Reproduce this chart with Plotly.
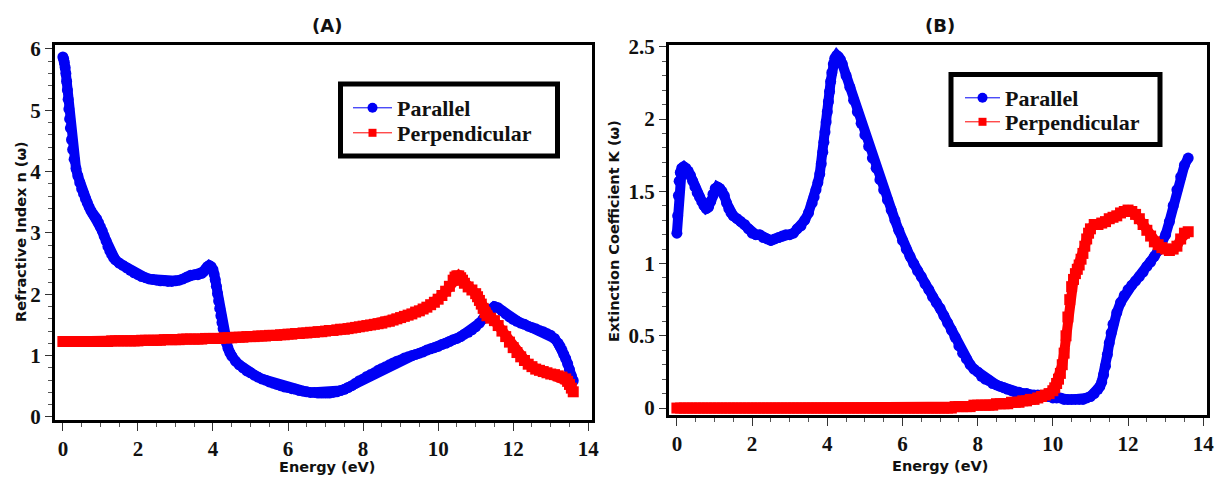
import plotly.graph_objects as go

# ---------------- Data ----------------
# Panel A: Refractive index n(w)
E_A_par = [0.00,0.02,0.04,0.06,0.08,0.10,0.12,0.14,0.16,0.18,0.20,0.23,0.26,0.30,0.35,0.40,0.45,0.50,0.55,0.60,
           0.65,0.70,0.75,0.80,0.85,0.90,0.95,1.00,1.05,1.10,1.15,1.20,1.25,1.30,1.35,1.40,1.50,1.60,1.70,1.80,
           1.90,2.00,2.10,2.20,2.30,2.40,2.50,2.60,2.70,2.80,2.90,3.00,3.10,3.20,3.30,3.40,3.50,3.60,3.70,3.75,
           3.80,3.85,3.90,3.95,4.00,4.03,4.06,4.09,4.12,4.15,4.18,4.21,4.24,4.27,4.30,4.33,4.36,4.40,4.45,4.50,
           4.60,4.70,4.80,4.90,5.00,5.10,5.20,5.30,5.40,5.50,5.60,5.70,5.80,5.90,6.00,6.10,6.20,6.30,6.40,6.50,
           6.60,6.70,6.80,6.90,7.00,7.10,7.20,7.30,7.40,7.50,7.60,7.70,7.80,7.90,8.00,8.10,8.20,8.30,8.40,8.50,
           8.60,8.70,8.80,8.90,9.00,9.10,9.20,9.30,9.40,9.50,9.60,9.70,9.80,9.90,10.00,10.10,10.20,10.30,10.40,10.50,
           10.60,10.70,10.80,10.90,11.00,11.10,11.20,11.30,11.40,11.50,11.60,11.70,11.80,11.90,12.00,12.10,12.20,12.30,12.40,12.50,
           12.60,12.70,12.80,12.90,13.00,13.10,13.20,13.25,13.30,13.35,13.40,13.45,13.50,13.55,13.60]
n_par = [5.87,5.84,5.78,5.70,5.60,5.47,5.33,5.18,5.02,4.86,4.71,4.52,4.36,4.20,4.05,3.93,3.82,3.72,3.64,3.56,
         3.49,3.42,3.36,3.31,3.27,3.23,3.17,3.10,3.03,2.95,2.87,2.78,2.71,2.65,2.60,2.56,2.51,2.47,2.43,2.39,
         2.35,2.32,2.29,2.27,2.25,2.24,2.23,2.22,2.22,2.21,2.21,2.22,2.23,2.25,2.28,2.31,2.32,2.32,2.34,2.37,
         2.41,2.45,2.47,2.45,2.40,2.33,2.24,2.13,2.01,1.89,1.77,1.65,1.54,1.44,1.35,1.27,1.20,1.12,1.05,0.99,
         0.91,0.85,0.80,0.75,0.72,0.68,0.65,0.62,0.60,0.57,0.55,0.53,0.51,0.49,0.48,0.46,0.45,0.43,0.42,0.41,
         0.40,0.40,0.39,0.39,0.39,0.39,0.40,0.41,0.43,0.45,0.48,0.51,0.55,0.59,0.62,0.66,0.69,0.72,0.76,0.79,
         0.82,0.85,0.88,0.91,0.93,0.96,0.98,1.00,1.02,1.04,1.06,1.09,1.11,1.13,1.15,1.18,1.20,1.23,1.26,1.28,
         1.31,1.35,1.38,1.42,1.47,1.53,1.60,1.68,1.76,1.80,1.78,1.73,1.68,1.63,1.59,1.56,1.53,1.51,1.48,1.46,
         1.44,1.41,1.39,1.36,1.33,1.28,1.20,1.15,1.09,1.02,0.95,0.87,0.77,0.67,0.59]

E_A_per = [0.0,0.1,0.2,0.3,0.4,0.5,0.6,0.7,0.8,0.9,1.0,1.1,1.2,1.3,1.4,1.5,1.6,1.7,1.8,1.9,
           2.0,2.1,2.2,2.3,2.4,2.5,2.6,2.7,2.8,2.9,3.0,3.1,3.2,3.3,3.4,3.5,3.6,3.7,3.8,3.9,
           4.0,4.1,4.2,4.3,4.4,4.5,4.6,4.7,4.8,4.9,5.0,5.1,5.2,5.3,5.4,5.5,5.6,5.7,5.8,5.9,
           6.0,6.1,6.2,6.3,6.4,6.5,6.6,6.7,6.8,6.9,7.0,7.1,7.2,7.3,7.4,7.5,7.6,7.7,7.8,7.9,
           8.0,8.1,8.2,8.3,8.4,8.5,8.6,8.7,8.8,8.9,9.0,9.1,9.2,9.3,9.4,9.5,9.6,9.7,9.8,9.9,
           10.0,10.1,10.2,10.3,10.4,10.45,10.5,10.55,10.6,10.65,10.7,10.8,10.9,11.0,11.05,11.1,11.15,11.2,11.25,11.3,
           11.4,11.5,11.6,11.7,11.8,11.9,12.0,12.1,12.2,12.3,12.4,12.5,12.6,12.7,12.8,12.9,13.0,13.1,13.2,13.3,
           13.4,13.45,13.5,13.55,13.6]
n_per = [1.23,1.23,1.23,1.23,1.23,1.23,1.23,1.23,1.23,1.23,1.23,1.23,1.23,1.24,1.24,1.24,1.24,1.24,1.24,1.24,
         1.24,1.25,1.25,1.25,1.25,1.25,1.25,1.26,1.26,1.26,1.26,1.26,1.27,1.27,1.27,1.27,1.27,1.27,1.28,1.28,
         1.28,1.28,1.28,1.29,1.29,1.29,1.30,1.30,1.30,1.31,1.31,1.31,1.32,1.32,1.32,1.33,1.33,1.33,1.34,1.34,
         1.35,1.35,1.36,1.36,1.37,1.37,1.38,1.38,1.39,1.39,1.40,1.41,1.41,1.42,1.43,1.43,1.44,1.45,1.46,1.47,
         1.48,1.49,1.50,1.51,1.52,1.53,1.55,1.56,1.58,1.60,1.62,1.64,1.66,1.68,1.71,1.73,1.76,1.79,1.83,1.87,
         1.92,1.98,2.05,2.13,2.23,2.28,2.30,2.30,2.27,2.23,2.18,2.12,2.07,2.01,1.96,1.90,1.84,1.77,1.70,1.65,
         1.61,1.57,1.49,1.40,1.31,1.22,1.13,1.05,0.98,0.92,0.86,0.82,0.78,0.76,0.74,0.72,0.70,0.69,0.67,0.65,
         0.62,0.58,0.53,0.47,0.41]

# Panel B: Extinction coefficient K(w)
E_B_par = [0.00,0.02,0.04,0.06,0.09,0.13,0.18,0.24,0.30,0.36,0.42,0.48,0.54,0.60,0.66,0.72,0.78,0.84,0.90,0.96,
           1.02,1.08,1.14,1.20,1.26,1.32,1.38,1.44,1.50,1.60,1.70,1.80,1.90,2.00,2.10,2.20,2.30,2.40,2.50,2.60,
           2.70,2.80,2.90,3.00,3.10,3.20,3.30,3.40,3.50,3.60,3.65,3.70,3.75,3.80,3.84,3.88,3.91,3.94,3.97,4.00,
           4.03,4.06,4.09,4.12,4.16,4.20,4.25,4.30,4.35,4.40,4.50,4.60,4.70,4.80,4.90,5.00,5.10,5.20,5.30,5.40,
           5.50,5.60,5.70,5.80,5.90,6.00,6.10,6.20,6.30,6.40,6.50,6.60,6.70,6.80,6.90,7.00,7.10,7.20,7.30,7.40,
           7.50,7.60,7.70,7.80,7.90,8.00,8.10,8.20,8.30,8.40,8.50,8.60,8.70,8.80,8.90,9.00,9.10,9.20,9.30,9.40,
           9.50,9.60,9.70,9.80,9.90,10.00,10.10,10.20,10.30,10.40,10.50,10.60,10.70,10.80,10.90,11.00,11.10,11.20,11.25,11.30,
           11.35,11.40,11.45,11.50,11.55,11.60,11.70,11.80,11.90,12.00,12.10,12.20,12.30,12.40,12.50,12.60,12.70,12.80,12.90,13.00,
           13.10,13.20,13.30,13.40,13.50,13.60]
k_par = [1.21,1.33,1.47,1.57,1.63,1.66,1.67,1.66,1.64,1.61,1.57,1.53,1.49,1.46,1.43,1.40,1.38,1.39,1.43,1.48,
         1.52,1.53,1.52,1.50,1.47,1.42,1.38,1.35,1.33,1.31,1.29,1.27,1.24,1.21,1.20,1.20,1.18,1.17,1.16,1.17,
         1.18,1.19,1.20,1.20,1.21,1.24,1.26,1.30,1.35,1.42,1.46,1.51,1.56,1.62,1.69,1.77,1.84,1.91,1.98,2.05,
         2.12,2.19,2.26,2.32,2.38,2.42,2.44,2.43,2.41,2.38,2.30,2.22,2.13,2.05,1.97,1.89,1.81,1.73,1.66,1.58,
         1.51,1.44,1.37,1.30,1.23,1.16,1.10,1.05,1.00,0.95,0.91,0.86,0.82,0.77,0.73,0.69,0.64,0.59,0.54,0.49,
         0.43,0.38,0.34,0.30,0.27,0.25,0.22,0.20,0.19,0.17,0.16,0.15,0.14,0.13,0.12,0.11,0.11,0.10,0.10,0.09,
         0.09,0.09,0.08,0.08,0.08,0.07,0.07,0.07,0.06,0.06,0.06,0.06,0.06,0.06,0.07,0.08,0.10,0.13,0.15,0.18,
         0.23,0.29,0.37,0.45,0.52,0.58,0.66,0.73,0.78,0.82,0.85,0.88,0.91,0.94,0.98,1.01,1.05,1.09,1.14,1.20,
         1.29,1.40,1.51,1.60,1.68,1.73]

E_B_per = [0.0,0.1,0.2,0.3,0.4,0.5,0.6,0.7,0.8,0.9,1.0,1.1,1.2,1.3,1.4,1.5,1.6,1.7,1.8,1.9,
           2.0,2.1,2.2,2.3,2.4,2.5,2.6,2.7,2.8,2.9,3.0,3.1,3.2,3.3,3.4,3.5,3.6,3.7,3.8,3.9,
           4.0,4.1,4.2,4.3,4.4,4.5,4.6,4.7,4.8,4.9,5.0,5.1,5.2,5.3,5.4,5.5,5.6,5.7,5.8,5.9,
           6.0,6.1,6.2,6.3,6.4,6.5,6.6,6.7,6.8,6.9,7.0,7.1,7.2,7.3,7.4,7.5,7.6,7.7,7.8,7.9,
           8.0,8.1,8.2,8.3,8.4,8.5,8.6,8.7,8.8,8.9,9.0,9.1,9.2,9.3,9.4,9.5,9.6,9.7,9.8,9.9,
           10.0,10.05,10.1,10.15,10.2,10.25,10.3,10.35,10.4,10.45,10.5,10.55,10.6,10.65,10.7,10.75,10.8,10.85,10.9,10.95,
           11.0,11.1,11.2,11.3,11.4,11.5,11.6,11.7,11.8,11.9,12.0,12.1,12.2,12.3,12.4,12.5,12.6,12.7,12.8,12.9,
           13.0,13.1,13.2,13.3,13.4,13.5,13.6]
k_per = [0.00,0.00,0.00,0.00,0.00,0.00,0.00,0.00,0.00,0.00,0.00,0.00,0.00,0.00,0.00,0.00,0.00,0.00,0.00,0.00,
         0.00,0.00,0.00,0.00,0.00,0.00,0.00,0.00,0.00,0.00,0.00,0.00,0.00,0.00,0.00,0.00,0.00,0.00,0.00,0.00,
         0.00,0.00,0.00,0.00,0.00,0.00,0.00,0.00,0.00,0.00,0.00,0.00,0.00,0.00,0.00,0.00,0.00,0.00,0.00,0.00,
         0.00,0.00,0.00,0.00,0.00,0.00,0.00,0.00,0.00,0.00,0.00,0.00,0.00,0.00,0.01,0.01,0.01,0.01,0.01,0.02,
         0.02,0.02,0.02,0.02,0.02,0.03,0.03,0.03,0.03,0.04,0.04,0.04,0.05,0.05,0.06,0.06,0.07,0.08,0.09,0.10,
         0.12,0.14,0.17,0.20,0.24,0.30,0.38,0.50,0.63,0.75,0.84,0.89,0.93,0.96,0.99,1.03,1.07,1.12,1.17,1.21,
         1.24,1.27,1.27,1.28,1.29,1.31,1.32,1.33,1.35,1.36,1.37,1.36,1.34,1.31,1.27,1.23,1.19,1.15,1.13,1.11,
         1.10,1.09,1.10,1.12,1.17,1.21,1.22]

series_names = ["Parallel", "Perpendicular"]
panel_titles = ["(A)", "(B)"]
x_title = "Energy (eV)"
y_titles = ["Refractive Index n (\u03c9)", "Extinction Coefficient K (\u03c9)"]

# ---------------- Styling ----------------
W, H = 1218, 477
BLUE = "#0000f5"
RED = "#ff0000"
MS = 11          # marker size
BAND = 10        # width of the dense-marker band
SERIF = "Liberation Serif, Times New Roman, Times, serif"
SANS = "DejaVu Sans, Verdana, sans-serif"


def px(x):
    return x / W


def py(y):
    return 1 - y / H


fig = go.Figure()

styles = [("circle", BLUE, 10), ("square", RED, 8)]
panels = [
    ("x", "y", ["legend", "legend2"], [(E_A_par, n_par), (E_A_per, n_per)]),
    ("x2", "y2", ["legend3", "legend4"], [(E_B_par, k_par), (E_B_per, k_per)]),
]

for xa, ya, lgs, series in panels:
    for (xs, ys), (sym, col, _) in zip(series, styles):
        fig.add_trace(go.Scatter(x=xs, y=ys, mode="lines+markers", showlegend=False,
                                 marker=dict(symbol=sym, size=MS, color=col, line=dict(width=0)),
                                 line=dict(color=col, width=BAND), xaxis=xa, yaxis=ya))
    for name, (sym, col, lms), lg in zip(series_names, styles, lgs):
        # legend entries: thin line + marker, as in the reference legend
        fig.add_trace(go.Scatter(x=[None], y=[None], mode="lines+markers", name=name,
                                 marker=dict(symbol=sym, size=lms, color=col),
                                 line=dict(color=col, width=1), xaxis=xa, yaxis=ya, legend=lg))

tickfont = dict(family=SERIF, size=21, color="#111", weight="bold")


def xax(domain, anchor):
    return dict(domain=domain, anchor=anchor, range=[-0.21, 14.1], dtick=2, tick0=0,
                automargin=False, showgrid=False, zeroline=False, showline=True, mirror=True,
                linecolor="black", linewidth=3, ticks="outside", ticklen=8, tickwidth=1,
                tickcolor="#333", tickfont=tickfont,
                minor=dict(dtick=0.5, ticks="outside", ticklen=4, tickwidth=1, tickcolor="#555"))


def yax(domain, anchor, rng, dtick, mdtick):
    return dict(domain=domain, anchor=anchor, range=rng, dtick=dtick, tick0=0,
                automargin=False, showgrid=False, zeroline=False, showline=True, mirror=True,
                linecolor="black", linewidth=3, ticks="outside", ticklen=7, tickwidth=1,
                tickcolor="#333", tickfont=tickfont,
                minor=dict(dtick=mdtick, ticks="outside", ticklen=4, tickwidth=1, tickcolor="#555"))


legend_font = dict(family=SERIF, size=22, color="#111", weight="bold")


def leg(xc, yc, iw):
    # xc: marker centre, yc: row centre (pixels from top-left)
    return dict(x=px(xc - 20), y=py(yc - 21), xanchor="left", yanchor="top",
                bgcolor="rgba(0,0,0,0)", borderwidth=0, font=legend_font,
                itemwidth=iw, tracegroupgap=0)


fig.update_layout(
    width=W, height=H,
    margin=dict(l=0, r=0, t=0, b=0, autoexpand=False),
    paper_bgcolor="white", plot_bgcolor="white",
    xaxis=xax([px(55), px(592)], "y"),
    yaxis=yax([py(420), py(45)], "x", [-0.05, 6.065], 1, 0.2),
    xaxis2=xax([px(669), px(1207)], "y2"),
    yaxis2=yax([py(415), py(45)], "x2", [-0.048, 2.512], 0.5, 0.1),
    legend=leg(368, 108, 39),
    legend2=leg(368, 133, 39),
    legend3=leg(980, 98, 35),
    legend4=leg(980, 122, 35),
    showlegend=True,
)

# legend frames
for (x0, y0, x1, y1) in [(340.5, 84, 557.5, 156), (951, 74.5, 1160, 144.5)]:
    fig.add_shape(type="rect", xref="paper", yref="paper",
                  x0=px(x0), x1=px(x1), y0=py(y1), y1=py(y0),
                  line=dict(color="black", width=5), fillcolor="rgba(0,0,0,0)")

title_font = dict(family=SANS, size=18, color="#111", weight="bold")
axis_font = dict(family=SANS, size=14.5, color="#111", weight="bold")
annos = [
    dict(text=panel_titles[0], x=px(327), y=py(26), font=title_font),
    dict(text=panel_titles[1], x=px(940), y=py(26), font=title_font),
    dict(text=x_title, x=px(327), y=py(467), font=axis_font),
    dict(text=x_title, x=px(940), y=py(466), font=axis_font),
    dict(text=y_titles[0], x=px(21), y=py(232), font=axis_font, textangle=-90),
    dict(text=y_titles[1], x=px(614), y=py(231), font=axis_font, textangle=-90),
]
for a in annos:
    fig.add_annotation(xref="paper", yref="paper", showarrow=False,
                       xanchor="center", yanchor="middle", **a)

# remove the browser's default 8px page margin so the figure sits at the window origin
fig.write_html("out.html", config={"displayModeBar": False},
               post_script="document.body.style.margin='0px';")
